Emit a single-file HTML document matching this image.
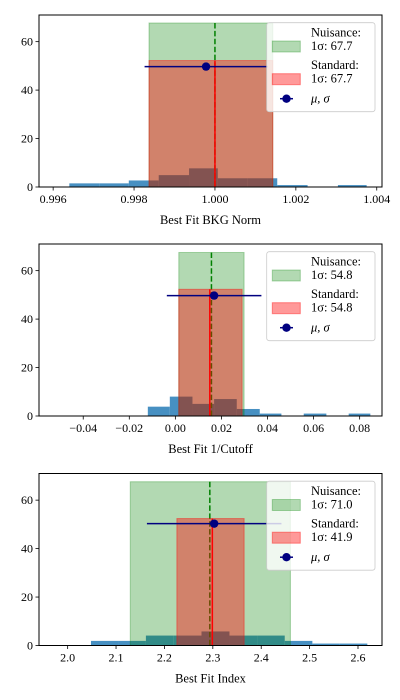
<!DOCTYPE html>
<html><head><meta charset="utf-8"><style>
html,body{margin:0;padding:0;background:#fff;width:400px;height:700px;overflow:hidden}
svg{display:block;font-family:"Liberation Serif","DejaVu Serif",serif}
</style></head><body>
<svg id="chart" width="400" height="700" viewBox="0 0 400 700" xmlns="http://www.w3.org/2000/svg"></svg>
<script>
// ---- Panel 1: Best Fit BKG Norm ----
const p1Edges = [0.99640,0.99714,0.99787,0.99861,0.99936,1.00007,1.00081,1.00154,1.00229,1.00304,1.00375];
const p1Counts = [1.5,1.5,2.7,4.9,7.7,3.6,3.6,0.8,0,0.8];
const p1Nuis = [0.99837,1.00143,67.7];
const p1Std = [0.99837,1.00143,52.2];
const p1Lines = [1.00000,1.00000];
const p1Mu = [0.99978,49.7,0.00152];
const p1Ticks = [0.996,0.998,1.000,1.002,1.004];
const p1TickLabels = ["0.996","0.998","1.000","1.002","1.004"];
const p1Legend = ["67.7","67.7"];
// ---- Panel 2: Best Fit 1/Cutoff ----
const p2Edges = [-0.01196,-0.00241,0.00742,0.01682,0.02665,0.03663,0.04603,0.05572,0.06555,0.07524,0.08464];
const p2Counts = [3.85,8.0,5.0,7.0,2.9,1.0,0,1.0,0,1.0];
const p2Nuis = [0.00149,0.02983,67.5];
const p2Std = [0.00149,0.02897,52.3];
const p2Lines = [0.01566,0.01494];
const p2Mu = [0.01682,49.7,0.02053];
const p2Ticks = [-0.04,-0.02,0.00,0.02,0.04,0.06,0.08];
const p2TickLabels = ["\u22120.04","\u22120.02","0.00","0.02","0.04","0.06","0.08"];
const p2Legend = ["54.8","54.8"];
// ---- Panel 3: Best Fit Index ----
const p3Edges = [2.0482,2.1050,2.1617,2.2192,2.2766,2.3344,2.3915,2.4486,2.5057,2.5625,2.6193];
const p3Counts = [1.9,1.9,4.1,4.1,5.8,4.1,4.1,1.9,0.8,0.8];
const p3Nuis = [2.1294,2.4603,67.6];
const p3Std = [2.2257,2.3647,52.4];
const p3Lines = [2.2938,2.2990];
const p3Mu = [2.3028,50.3,0.139];
const p3Ticks = [2.0,2.1,2.2,2.3,2.4,2.5,2.6];
const p3TickLabels = ["2.0","2.1","2.2","2.3","2.4","2.5","2.6"];
const p3Legend = ["71.0","41.9"];
const yTicks = [0,20,40,60];

const NS="http://www.w3.org/2000/svg";
const svg=document.getElementById('chart');
function mk(tag,attrs,parent){const e=document.createElementNS(NS,tag);for(const k in attrs)e.setAttribute(k,attrs[k]);(parent||svg).appendChild(e);return e;}

function panel(idx,top,xmin,xmax,edges,counts,nuis,std,lines,mu,ticks,tickLabels,legendVals,title){
  const L=39,R=382,T=top,B=top+172,ymax=71;
  const g=mk('g',{});
  
  
  const X=v=>L+(v-xmin)/(xmax-xmin)*(R-L);
  const Y=v=>B-v/ymax*(B-T);
  const clip=mk('clipPath',{id:'c'+idx},g);mk('rect',{x:L,y:T,width:R-L,height:B-T},clip);
  const pg=mk('g',{'clip-path':'url(#c'+idx+')'},g);
  for(let i=0;i<counts.length;i++){
    if(counts[i]<=0)continue;
    const r=mk('rect',{x:X(edges[i]),y:Y(counts[i]),width:X(edges[i+1])-X(edges[i]),height:B-Y(counts[i]),fill:'rgba(31,119,180,0.82)'},pg);
    
    
  }
  const gn=mk('rect',{x:X(nuis[0]),y:Y(nuis[2]),width:X(nuis[1])-X(nuis[0]),height:B-Y(nuis[2]),fill:'rgba(0,128,0,0.3)',stroke:'rgba(0,128,0,0.3)'},pg);
  
  
  const gl=mk('line',{x1:X(lines[0]),x2:X(lines[0]),y1:Y(nuis[2]),y2:B,stroke:'#008000','stroke-width':1.5,'stroke-dasharray':'5.5,2.4'},pg);
  
  
  const rs=mk('rect',{x:X(std[0]),y:Y(std[2]),width:X(std[1])-X(std[0]),height:B-Y(std[2]),fill:'rgba(255,0,0,0.4)',stroke:'rgba(255,0,0,0.4)'},pg);
  
  
  const rl=mk('line',{x1:X(lines[1]),x2:X(lines[1]),y1:Y(std[2]),y2:B,stroke:'#ff0000','stroke-width':1.5},pg);
  
  
  const eb=mk('line',{x1:X(mu[0]-mu[2]),x2:X(mu[0]+mu[2]),y1:Y(mu[1]),y2:Y(mu[1]),stroke:'#000080','stroke-width':1.5},pg);
  
  
  const pt=mk('circle',{cx:X(mu[0]),cy:Y(mu[1]),r:4.2,fill:'#000080'},pg);
  
  
  // frame
  const fr=mk('rect',{x:L,y:T,width:R-L,height:B-T,fill:'none',stroke:'#000','stroke-width':1},g);
  
  
  ticks.forEach((t,i)=>{
    mk('line',{x1:X(t),x2:X(t),y1:B,y2:B+3.5,stroke:'#000','stroke-width':0.8},g);
    const tx=mk('text',{x:X(t),y:B+16,'font-size':12,'text-anchor':'middle'},g);
    tx.textContent=tickLabels[i];
    
    
  });
  yTicks.forEach(t=>{
    mk('line',{x1:L-3.5,x2:L,y1:Y(t),y2:Y(t),stroke:'#000','stroke-width':0.8},g);
    const tx=mk('text',{x:L-6,y:Y(t)+4,'font-size':12,'text-anchor':'end'},g);
    tx.textContent=String(t);
    
    
  });
  const xt=mk('text',{x:(L+R)/2+(idx==3?-0:0),y:B+37,'font-size':12.5,'text-anchor':'middle'},g);
  xt.textContent=title;
  
  
  // legend
  const lg=mk('g',{},g);
  
  
  const ly=T+7.7;
  mk('rect',{x:266.7,y:ly,width:108.3,height:89,rx:2.5,fill:'rgba(255,255,255,0.8)',stroke:'#cccccc','stroke-width':0.8},lg);
  mk('rect',{x:272.3,y:ly+18.3,width:28,height:11,fill:'rgba(0,128,0,0.3)',stroke:'rgba(0,128,0,0.3)'},lg);
  mk('rect',{x:272.3,y:ly+51,width:28,height:11,fill:'rgba(255,0,0,0.4)',stroke:'rgba(255,0,0,0.4)'},lg);
  mk('line',{x1:280,x2:293,y1:ly+76,y2:ly+76,stroke:'#000080','stroke-width':1.5},lg);
  mk('circle',{cx:286.5,cy:ly+76,r:4.2,fill:'#000080'},lg);
  const lines_=[["Nuisance:",ly+14],["1\u03c3: "+legendVals[0],ly+27.5],["Standard:",ly+46.5],["1\u03c3: "+legendVals[1],ly+60],["\u03bc, \u03c3",ly+80]];
  lines_.forEach(([s,y],i)=>{
    const t=mk('text',{x:311,y:y,'font-size':12.5,'font-style':i==4?'italic':'normal'},lg);
    t.textContent=s;
    
    
  });
}
panel(1,15,0.99565,1.00413,p1Edges,p1Counts,p1Nuis,p1Std,p1Lines,p1Mu,p1Ticks,p1TickLabels,p1Legend,"Best Fit BKG Norm");
panel(2,244,-0.0592,0.0897,p2Edges,p2Counts,p2Nuis,p2Std,p2Lines,p2Mu,p2Ticks,p2TickLabels,p2Legend,"Best Fit 1/Cutoff");
panel(3,473.5,1.9408,2.6496,p3Edges,p3Counts,p3Nuis,p3Std,p3Lines,p3Mu,p3Ticks,p3TickLabels,p3Legend,"Best Fit Index");
</script>
</body></html>
